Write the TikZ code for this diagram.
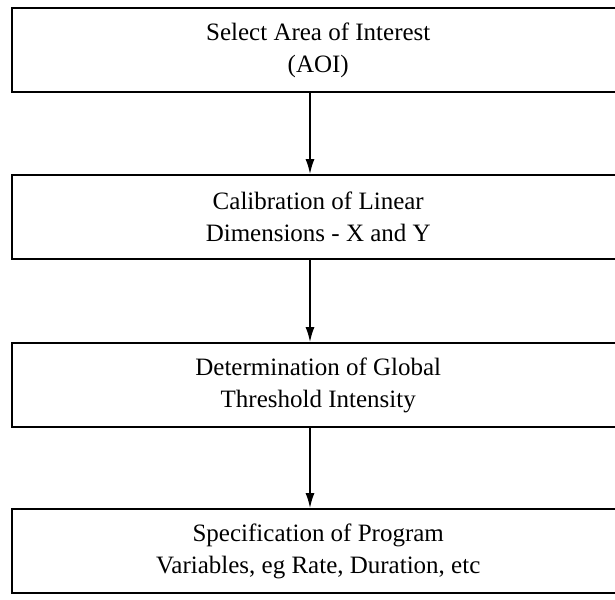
\documentclass[tikz,border=0pt]{standalone}
\usepackage{fontspec}
\setmainfont{Liberation Serif}
\usetikzlibrary{arrows.meta}
\tikzset{
  stepbox/.style={draw=black, line width=1.8pt, minimum width=613pt, minimum height=84pt,
    align=center, inner sep=0pt, font=\fontsize{25}{32}\selectfont},
  flow/.style={line width=1.6pt, -{Latex[length=15pt,width=9pt]}}
}
\begin{document}
\begin{tikzpicture}[x=1pt,y=1pt]
\useasboundingbox (0,0) rectangle (615,599);
\node[stepbox] (b1) at (318.25,549) {Select Area of Interest\\(AOI)};
\node[stepbox] (b2) at (318.25,382) {Calibration of Linear\\Dimensions - X and Y};
\node[stepbox] (b3) at (318.25,214) {Determination of Global\\Threshold Intensity};
\node[stepbox] (b4) at (318.25,48) {Specification of Program\\Variables, eg Rate, Duration, etc};
\coordinate (ax) at (310,0);
\draw[flow] (b1.south -| ax) -- (b2.north -| ax);
\draw[flow] (b2.south -| ax) -- (b3.north -| ax);
\draw[flow] (b3.south -| ax) -- (b4.north -| ax);
\end{tikzpicture}
\end{document}
